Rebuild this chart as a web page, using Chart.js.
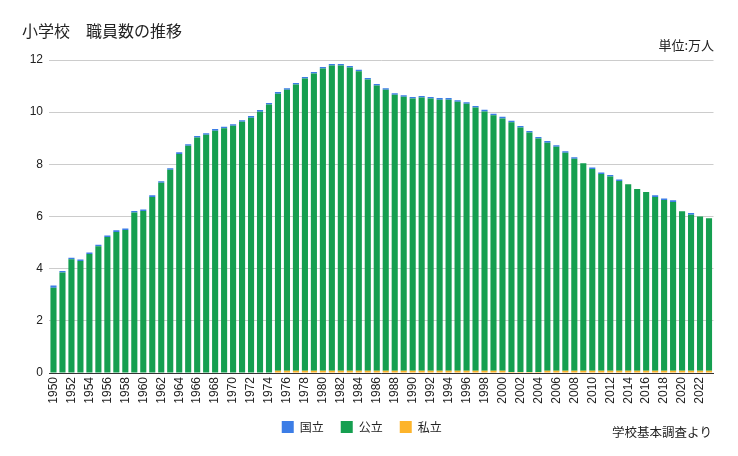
<!DOCTYPE html>
<html>
<head>
<meta charset="utf-8">
<script src="https://cdn.jsdelivr.net/npm/chart.js@4.4.1/dist/chart.umd.min.js"></script>
<style>
  html, body { margin: 0; padding: 0; background: #fff; }
  #wrap { width: 738px; height: 456px; }
</style>
</head>
<body>
<div id="wrap"><canvas id="c" width="738" height="456"></canvas></div>
<script>
const years = ["1950","1951","1952","1953","1954","1955","1956","1957","1958","1959",
  "1960","1961","1962","1963","1964","1965","1966","1967","1968","1969",
  "1970","1971","1972","1973","1974","1975","1976","1977","1978","1979",
  "1980","1981","1982","1983","1984","1985","1986","1987","1988","1989",
  "1990","1991","1992","1993","1994","1995","1996","1997","1998","1999",
  "2000","2001","2002","2003","2004","2005","2006","2007","2008","2009",
  "2010","2011","2012","2013","2014","2015","2016","2017","2018","2019",
  "2020","2021","2022","2023"];

const national = [0.08,0.06,0.06,0.06,0.06,0.06,0.06,0.06,0.06,0.06,
  0.06,0.06,0.06,0.06,0.06,0.06,0.06,0.06,0.06,0.06,
  0.06,0.06,0.06,0.06,0.06,0.06,0.06,0.06,0.06,0.06,
  0.06,0.06,0.06,0.06,0.06,0.06,0.06,0.06,0.06,0.06,
  0.06,0.06,0.06,0.06,0.06,0.06,0.06,0.06,0.06,0.06,
  0.06,0.06,0.06,0.06,0.06,0.06,0.06,0.06,0.06,0,
  0.06,0.06,0.06,0.06,0,0,0,0.06,0.06,0.06,
  0,0.06,0,0];

const publicS = [3.27,3.85,4.36,4.29,4.56,4.86,5.19,5.39,5.46,6.13,
  6.19,6.73,7.27,7.77,8.38,8.69,9.01,9.11,9.27,9.36,
  9.46,9.61,9.77,10.00,10.27,10.62,10.77,10.97,11.20,11.39,
  11.58,11.70,11.70,11.62,11.48,11.16,10.93,10.77,10.58,10.50,
  10.43,10.47,10.43,10.39,10.39,10.31,10.23,10.09,9.94,9.79,
  9.67,9.57,9.37,9.18,8.95,8.74,8.58,8.35,8.12,7.95,
  7.73,7.54,7.44,7.27,7.15,6.96,6.85,6.66,6.54,6.47,
  6.11,5.98,5.91,5.84];

const privateS = [0,0,0,0,0,0,0.02,0.02,0.02,0.02,
  0.02,0.02,0.02,0.02,0.02,0.02,0.02,0.02,0.02,0.02,
  0.02,0.02,0.02,0.02,0.02,0.09,0.09,0.09,0.09,0.09,
  0.09,0.09,0.09,0.09,0.09,0.09,0.09,0.09,0.09,0.09,
  0.09,0.09,0.09,0.09,0.09,0.09,0.09,0.09,0.09,0.09,
  0.09,0.04,0.04,0.04,0.04,0.09,0.09,0.09,0.09,0.09,
  0.09,0.09,0.09,0.09,0.09,0.09,0.09,0.09,0.09,0.09,
  0.09,0.09,0.09,0.09];

const yTicks = [0,2,4,6,8,10,12];
const titleText = "小学校　職員数の推移";
const unitText = "単位:万人";
const sourceText = "学校基本調査より";

const JP = '"Noto Sans CJK JP", "Noto Sans", sans-serif';
const LAT = '"Liberation Sans", Arial, sans-serif';

const textPlugin = {
  id: 'texts',
  afterLayout(chart) {
    const l = chart.legend;
    if (l) { l.left += 5; l.right += 5; }
  },
  afterDraw(chart) {
    const ctx = chart.ctx;
    ctx.save();
    ctx.fillStyle = '#222';
    ctx.textBaseline = 'middle';
    ctx.font = '16px ' + JP;
    ctx.textAlign = 'left';
    ctx.fillText(titleText, 22, 31);
    ctx.textAlign = 'right';
    ctx.font = '13px ' + JP;
    ctx.fillText(unitText, 714, 45);
    ctx.font = '12.5px ' + JP;
    ctx.fillText(sourceText, 712, 432);
    ctx.restore();
  }
};

new Chart(document.getElementById('c'), {
  type: 'bar',
  data: {
    labels: years,
    datasets: [
      { label: '私立', data: privateS, backgroundColor: '#FDB42B', stack: 's' },
      { label: '公立', data: publicS, backgroundColor: '#159F50', stack: 's' },
      { label: '国立', data: national, backgroundColor: '#3C7DE6', stack: 's' }
    ]
  },
  options: {
    responsive: false,
    animation: false,
    devicePixelRatio: 1,
    layout: { padding: { top: 60, right: 24.5, left: 0, bottom: 13 } },
    plugins: {
      title: { display: false },
      tooltip: { enabled: false },
      legend: {
        position: 'bottom',
        reverse: true,
        labels: {
          boxWidth: 12, boxHeight: 12, padding: 17,
          color: '#222',
          font: { family: JP, size: 12 },
          generateLabels(chart) {
            const items = Chart.defaults.plugins.legend.labels.generateLabels(chart);
            items.forEach(i => { i.lineWidth = 0; i.strokeStyle = 'rgba(0,0,0,0)'; });
            return items;
          }
        }
      }
    },
    scales: {
      x: {
        stacked: true,
        grid: { display: false, drawTicks: false },
        border: { display: true, color: '#333', width: 1 },
        ticks: {
          autoSkip: false, maxRotation: 90, minRotation: 90, padding: 4,
          color: '#222', font: { family: LAT, size: 12 },
          callback(v, i) { return i % 2 === 0 ? years[i] : ''; }
        },
        afterFit(s) { s.height = 31; }
      },
      y: {
        stacked: true,
        min: 0, max: 12,
        afterBuildTicks(s) { s.ticks = yTicks.map(v => ({ value: v })); },
        grid: { color: '#cccccc', drawTicks: false },
        border: { display: false },
        ticks: { padding: 6, color: '#222', font: { family: LAT, size: 12 } },
        afterFit(s) { s.width = 49; }
      }
    },
    datasets: { bar: { barPercentage: 0.68, categoryPercentage: 1.0 } }
  },
  plugins: [textPlugin]
});
</script>
</body>
</html>
